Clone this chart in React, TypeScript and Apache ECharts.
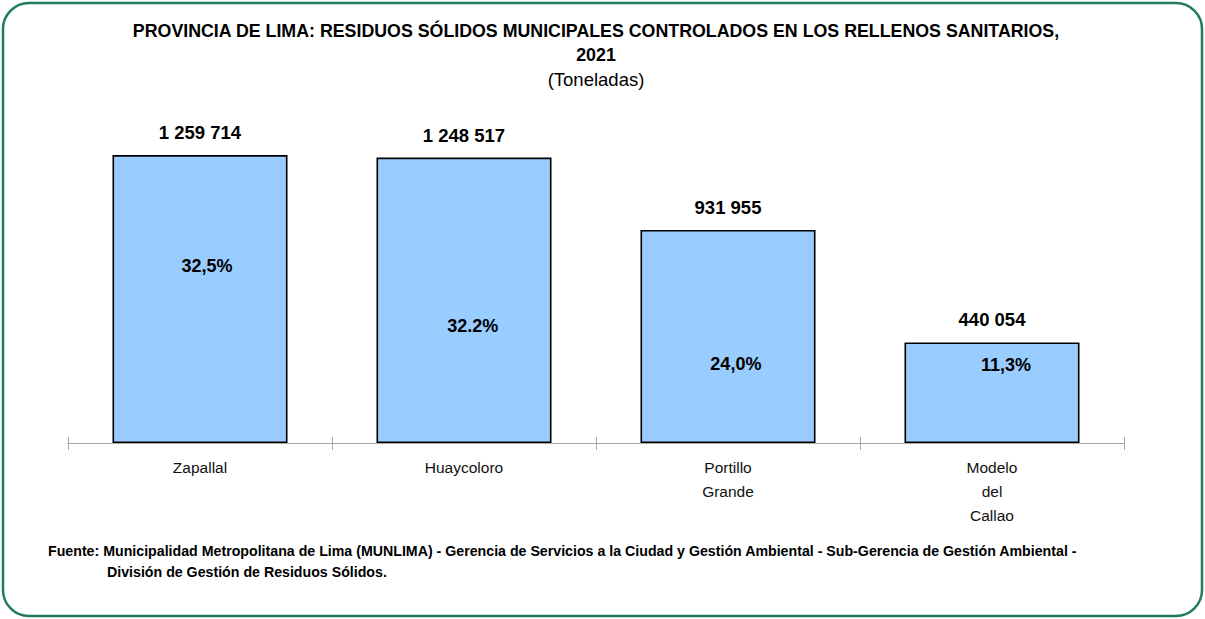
import React, { useEffect, useRef } from "react";
import * as echarts from "echarts";

const categories = ["Zapallal", "Huaycoloro", "Portillo\nGrande", "Modelo\ndel\nCallao"];
const values = [1259714, 1248517, 931955, 440054];
const shares = ["32,5%", "32.2%", "24,0%", "11,3%"];
// per-bar placement of the share label inside the bar (x as % of width, y px below top)
const shareLabelPos: [string, number][] = [["54%", 111], ["55%", 168], ["54.5%", 134], ["58%", 23]];

const FONT = "'Liberation Sans', Arial, sans-serif";

const fmt = (v: number) => String(v).replace(/\B(?=(\d{3})+(?!\d))/g, " ");

export default function App() {
  const ref = useRef<HTMLDivElement>(null);
  useEffect(() => {
    document.body.style.margin = "0";
    const chart = echarts.init(ref.current!, null, { renderer: "svg" });
    chart.setOption({
      animation: false,
      backgroundColor: "#ffffff",
      textStyle: { fontFamily: FONT },
      title: {
        text: "PROVINCIA DE LIMA: RESIDUOS SÓLIDOS MUNICIPALES CONTROLADOS EN LOS RELLENOS SANITARIOS,\n2021",
        subtext: "(Toneladas)",
        left: 596,
        textAlign: "center",
        top: 19,
        padding: 0,
        itemGap: 0,
        textStyle: { fontFamily: FONT, fontSize: 17.8, fontWeight: "bold", color: "#000", lineHeight: 24 },
        subtextStyle: { fontFamily: FONT, fontSize: 18.5, color: "#000", lineHeight: 24 },
      },
      grid: { left: 68, right: 81, top: 123, bottom: 176, containLabel: false },
      xAxis: [
        {
          type: "category",
          data: categories,
          axisLine: { lineStyle: { color: "#a6a6a6", width: 1.2 } },
          axisTick: { show: true, length: 7, lineStyle: { color: "#a6a6a6" } },
          axisLabel: { fontFamily: FONT, fontSize: 15.5, color: "#111", lineHeight: 24, margin: 12 },
        },
        {
          type: "category",
          data: categories,
          position: "bottom",
          axisLine: { show: false },
          axisTick: { show: true, inside: true, length: 6, lineStyle: { color: "#a6a6a6" } },
          axisLabel: { show: false },
        },
      ],
      yAxis: {
        type: "value",
        min: 0,
        max: 1400000,
        show: false,
        splitLine: { show: false },
      },
      graphic: [
        {
          type: "rect",
          shape: { x: 3, y: 3, width: 1199, height: 613, r: 26 },
          style: { fill: "none", stroke: "#217a62", lineWidth: 2.5 },
          silent: true,
        },
        {
          type: "text",
          left: 48,
          top: 544,
          style: {
            text: "Fuente: Municipalidad Metropolitana de Lima (MUNLIMA) - Gerencia de Servicios a la Ciudad y Gestión Ambiental - Sub-Gerencia de Gestión Ambiental -",
            font: `bold 14.2px ${FONT}`,
            fill: "#000",
          },
        },
        {
          type: "text",
          left: 107,
          top: 565,
          style: {
            text: "División de Gestión de Residuos Sólidos.",
            font: `bold 14.2px ${FONT}`,
            fill: "#000",
          },
        },
      ],
      series: [
        {
          type: "bar",
          barWidth: "66.3%",
          data: values.map((v, i) => ({
            value: v,
            label: {
              show: true,
              position: shareLabelPos[i],
              align: "center",
              verticalAlign: "middle",
              formatter: () => shares[i],
            },
          })),
          itemStyle: { color: "#99ccff", borderColor: "#000", borderWidth: 1.6 },
          label: { fontFamily: FONT, fontSize: 18, fontWeight: "bold", color: "#000" },
        },
        {
          type: "bar",
          barWidth: "66.3%",
          barGap: "-100%",
          data: values,
          itemStyle: { color: "rgba(0,0,0,0)" },
          silent: true,
          label: {
            show: true,
            position: "top",
            distance: 13,
            fontFamily: FONT,
            fontSize: 18.5,
            fontWeight: "bold",
            color: "#000",
            formatter: (p: any) => fmt(p.value),
          },
        },
      ],
    });
    return () => chart.dispose();
  }, []);
  return <div ref={ref} style={{ width: 1205, height: 619 }} />;
}
